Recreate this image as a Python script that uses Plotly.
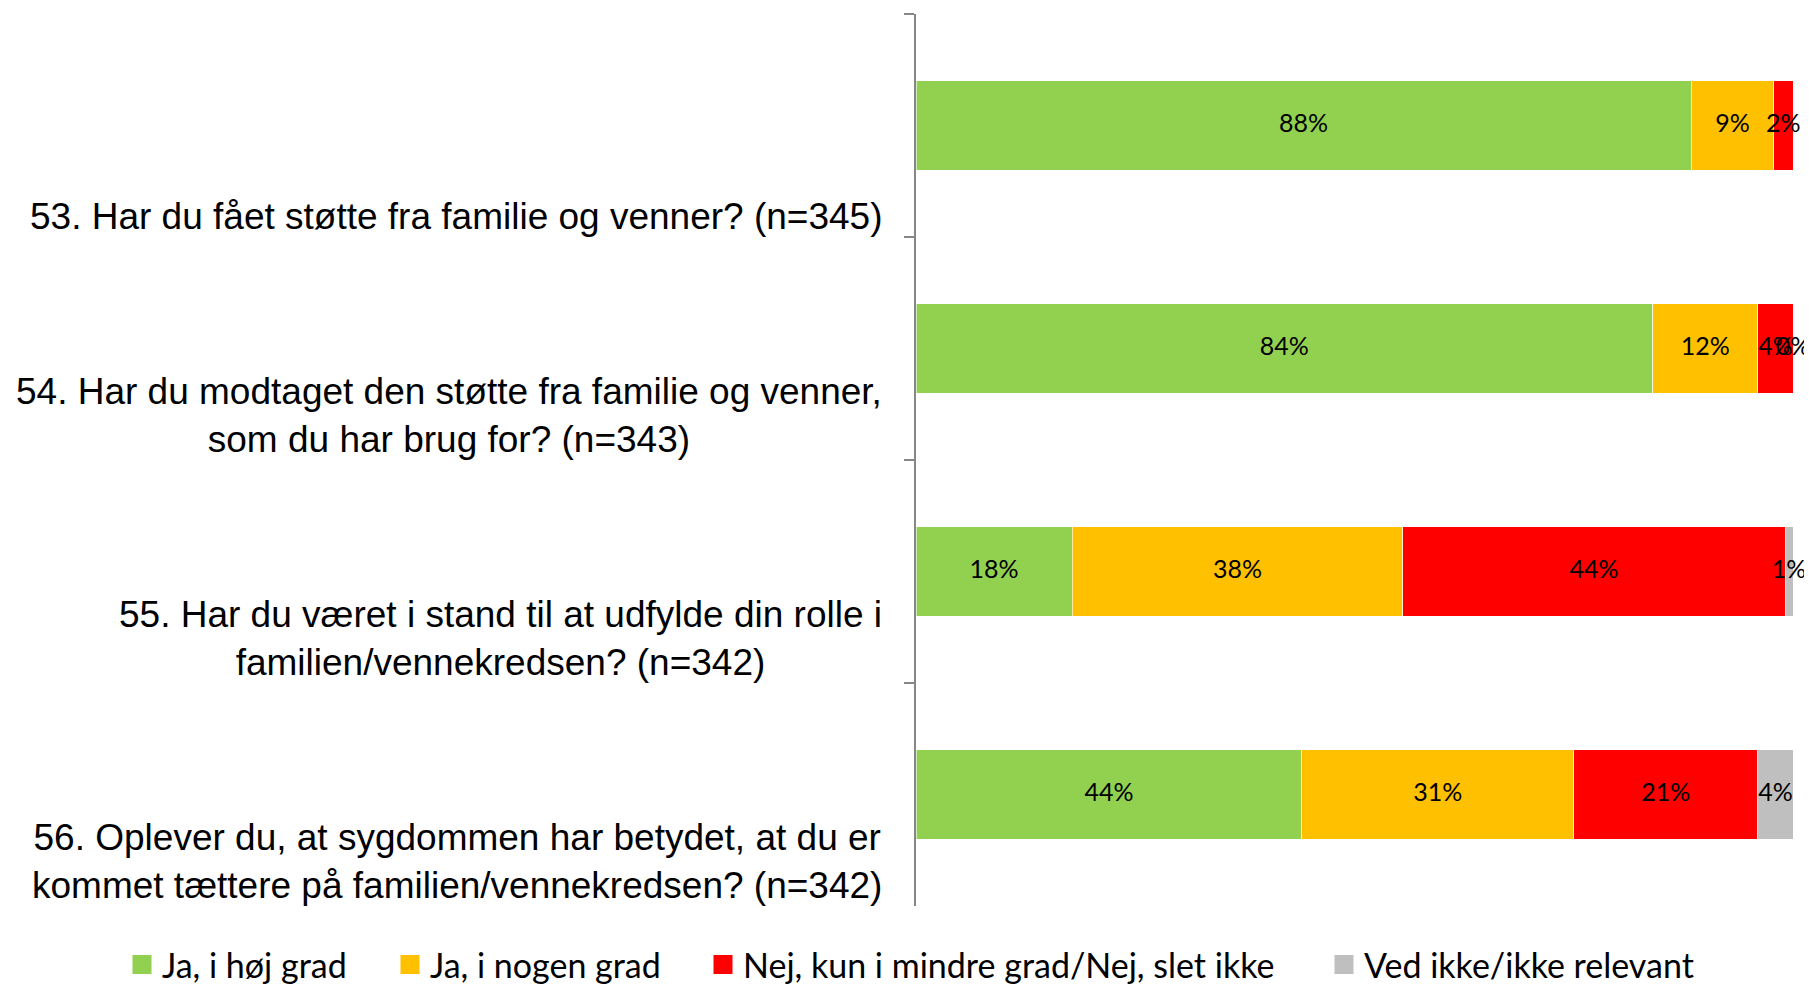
import plotly.graph_objects as go

questions = [
    "53. Har du fået støtte fra familie og venner? (n=345)",
    "54. Har du modtaget den støtte fra familie og venner,<br>som du har brug for? (n=343)",
    "55. Har du været i stand til at udfylde din rolle i<br>familien/vennekredsen? (n=342)",
    "56. Oplever du, at sygdommen har betydet, at du er<br>kommet tættere på familien/vennekredsen? (n=342)",
]
categories = ["Q53", "Q54", "Q55", "Q56"]

series_names = [
    "Ja, i høj grad",
    "Ja, i nogen grad",
    "Nej, kun i mindre grad/Nej, slet ikke",
    "Ved ikke/ikke relevant",
]
ja_hoj = [88.4, 84.0, 17.8, 44.0]
ja_nogen = [9.4, 12.0, 37.7, 31.0]
nej = [2.2, 4.0, 43.6, 21.0]
ved_ikke = [0.0, 0.0, 0.9, 4.0]
colors = ["#92D050", "#FFC000", "#FF0000", "#BFBFBF"]

series = [ja_hoj, ja_nogen, nej, ved_ikke]

# page body has an 8px default margin; lay out in window pixels minus that offset
OFF = 8
W, H = 1812 - OFF, 984 - OFF
plot_left, plot_right, plot_top, plot_bottom = 916 - OFF, 1793 - OFF, 14 - OFF, 906 - OFF
legend_text_x = [x - OFF for x in (162, 430, 743, 1364)]
legend_center_y = 965 - OFF

fig = go.Figure()

# bars
for name, vals, col in zip(series_names, series, colors):
    fig.add_trace(go.Bar(
        y=categories, x=vals, orientation="h", name=name,
        marker=dict(color=col, line=dict(color="rgba(255,255,255,0.6)", width=1)),
        showlegend=False, hoverinfo="x+name",
    ))

# data labels at segment centers
cum = [0.0] * len(categories)
for vals in series:
    centers = [c + v / 2 for c, v in zip(cum, vals)]
    fig.add_trace(go.Scatter(
        y=categories, x=centers, mode="text",
        text=[f"{v:.0f}%" for v in vals],
        textposition="middle center",
        textfont=dict(family="Lato, Liberation Sans, sans-serif", size=25, color="#000000"),
        showlegend=False, hoverinfo="skip", cliponaxis=False,
    ))
    cum = [c + v for c, v in zip(cum, vals)]

# legend entries, each in its own legend so spacing can match
legend_ids = ["legend", "legend2", "legend3", "legend4"]
for name, col, lid in zip(series_names, colors, legend_ids):
    fig.add_trace(go.Scatter(
        x=[None], y=[None], mode="markers", name=name,
        marker=dict(symbol="square", size=16, color=col, line=dict(color=col, width=3)),
        showlegend=True, legend=lid,
    ))

legend_font = dict(family="Lato, Liberation Sans, sans-serif", size=34, color="#000000")
legend_layout = {}
for lid, tx in zip(legend_ids, legend_text_x):
    legend_layout[lid] = dict(
        orientation="h", xref="container", x=(tx - 40) / W, xanchor="left",
        yref="container", y=1 - legend_center_y / H, yanchor="middle",
        font=legend_font, bgcolor="rgba(0,0,0,0)", borderwidth=0,
    )

# question labels
for i, q in enumerate(questions):
    fig.add_annotation(
        xref="paper", yref="y", x=plot_left / W, y=i + 0.5,
        xanchor="right", yanchor="bottom", align="center",
        text=q, showarrow=False, xshift=-32, yshift=-2,
        font=dict(family="Liberation Sans, Arial, sans-serif", size=37, color="#000000"),
    )

fig.update_layout(
    width=W, height=H,
    barmode="stack", bargap=0.6,
    plot_bgcolor="white", paper_bgcolor="white",
    margin=dict(l=0, r=0, t=0, b=0, autoexpand=False),
    showlegend=True,
    **legend_layout,
)
fig.update_xaxes(range=[0, 100], visible=False, showgrid=False, zeroline=False,
                 domain=[plot_left / W, plot_right / W])
fig.update_yaxes(
    domain=[1 - plot_bottom / H, 1 - plot_top / H],
    categoryorder="array", categoryarray=categories,
    range=[len(categories) - 0.5, -0.5], autorange=False,
    showticklabels=False, showgrid=False, zeroline=False,
    showline=True, linecolor="#868686", linewidth=2,
    ticks="outside", tickson="boundaries", ticklen=10, tickcolor="#868686", tickwidth=2,
)

fig.write_html("out.html")
